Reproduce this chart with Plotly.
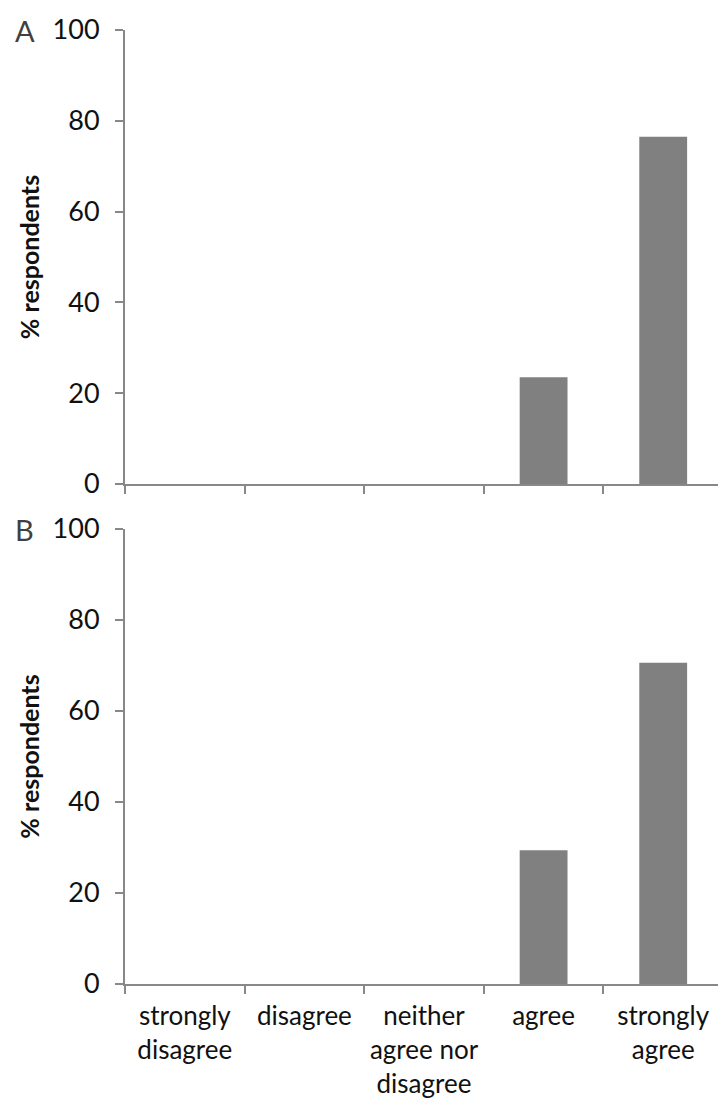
import plotly.graph_objects as go

# Survey responses, % of respondents
categories = ['strongly<br>disagree', 'disagree', 'neither<br>agree nor<br>disagree',
              'agree', 'strongly<br>agree']
panel_a = [0, 0, 0, 23.5, 76.5]
panel_b = [0, 0, 0, 29.4, 70.6]
y_ticks = [0, 20, 40, 60, 80, 100]

FONT = 'Lato, Carlito, Calibri, sans-serif'
AXIS_GREY = '#888888'
BAR_GREY = '#808080'

fig = go.Figure()
fig.add_trace(go.Bar(x=categories, y=panel_a, xaxis='x', yaxis='y',
                     marker=dict(color=BAR_GREY, line=dict(width=0)),
                     width=0.4, showlegend=False))
fig.add_trace(go.Bar(x=categories, y=panel_b, xaxis='x2', yaxis='y2',
                     marker=dict(color=BAR_GREY, line=dict(width=0)),
                     width=0.4, showlegend=False))

xcommon = dict(
    type='category', categoryorder='array', categoryarray=categories,
    showline=True, linecolor=AXIS_GREY, linewidth=2,
    ticks='outside', tickson='boundaries', ticklen=8, tickcolor=AXIS_GREY, tickwidth=2,
    showgrid=False, zeroline=False, automargin=False,
    tickfont=dict(family=FONT, size=26, color='#111111'),
)
ycommon = dict(
    range=[0, 100], tickvals=y_ticks,
    showline=True, linecolor=AXIS_GREY, linewidth=2,
    ticks='outside', ticklen=8, tickcolor=AXIS_GREY, tickwidth=2,
    showgrid=False, zeroline=False, automargin=False,
    tickfont=dict(family=FONT, size=27, color='#111111'),
    ticklabelstandoff=10,
    title=dict(text='<b>% respondents</b>', standoff=6,
               font=dict(family=FONT, size=25, color='#111111')),
)

fig.update_layout(
    width=726, height=1108,
    margin=dict(l=117, r=11, t=22, b=132),
    plot_bgcolor='white', paper_bgcolor='white',
    bargap=0.6,
    xaxis=dict(xcommon, anchor='y', showticklabels=False),
    yaxis=dict(ycommon, domain=[0.5241, 1.0], anchor='x'),
    xaxis2=dict(xcommon, anchor='y2', ticklabelstandoff=8),
    yaxis2=dict(ycommon, domain=[0.0, 0.4769], anchor='x2'),
)

for label, yref in [('A', 'y domain'), ('B', 'y2 domain')]:
    fig.add_annotation(text=label, xref='paper', yref=yref, x=-0.188, y=1.0,
                       xanchor='left', yanchor='middle', showarrow=False,
                       font=dict(family=FONT, size=29, color='#404040'))

fig.write_html('out.html')
